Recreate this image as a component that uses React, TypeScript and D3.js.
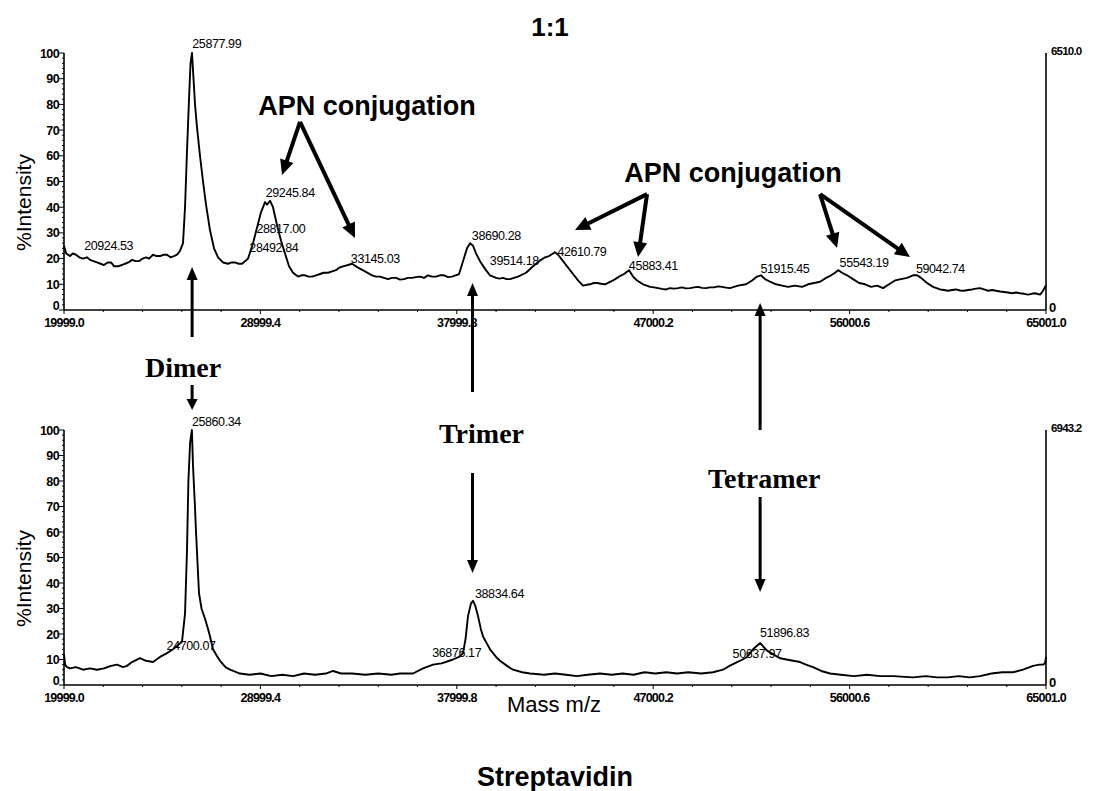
import React from "react";
import * as d3 from "d3";

// ---------- data ----------
const xTickLabels = ["19999.0", "28999.4", "37999.8", "47000.2", "56000.6", "65001.0"];
const yTickValues = [0, 10, 20, 30, 40, 50, 60, 70, 80, 90, 100];
const rightAxisTop = ["6510.0", "6943.2"];

const topMass = [19999, 20100, 20274, 20400, 20549, 20700, 20870, 21050, 21191, 21350, 21511, 21680, 21832, 22000, 22153, 22300, 22474, 22650, 22795, 22950, 23115, 23280, 23436, 23600, 23757, 23900, 24078, 24240, 24399, 24560, 24719, 24880, 25040, 25180, 25315, 25453, 25545, 25636, 25728, 25797, 25865, 25934, 26003, 26095, 26232, 26370, 26507, 26690, 26874, 27057, 27286, 27515, 27680, 27836, 28000, 28157, 28432, 28661, 28844, 29027, 29211, 29303, 29440, 29577, 29761, 29944, 30127, 30311, 30494, 30723, 30880, 31044, 31200, 31365, 31550, 31731, 31900, 32098, 32280, 32465, 32620, 32786, 33015, 33198, 33473, 33794, 34115, 34300, 34481, 34660, 34848, 35030, 35215, 35400, 35581, 35760, 35948, 36130, 36314, 36500, 36681, 36860, 37048, 37230, 37414, 37600, 37781, 38102, 38285, 38468, 38606, 38743, 38881, 39064, 39293, 39522, 39797, 39960, 40119, 40280, 40440, 40620, 40806, 41173, 41494, 41769, 42044, 42227, 42410, 42502, 42640, 42869, 43098, 43327, 43556, 43786, 43950, 44106, 44270, 44427, 44610, 44794, 45161, 45436, 45665, 45894, 46077, 46260, 46535, 46700, 46856, 47040, 47223, 47400, 47589, 47770, 47956, 48140, 48322, 48500, 48689, 48870, 49056, 49240, 49422, 49600, 49789, 49970, 50156, 50340, 50522, 50700, 50889, 51256, 51531, 51760, 51943, 52126, 52355, 52630, 52905, 53180, 53501, 53822, 54097, 54372, 54647, 54922, 55151, 55334, 55472, 55655, 55884, 56159, 56434, 56709, 56984, 57259, 57534, 57809, 58084, 58359, 58634, 58909, 59092, 59275, 59550, 59825, 60146, 60330, 60513, 60700, 60879, 61060, 61246, 61430, 61613, 61800, 61979, 62160, 62346, 62530, 62713, 62900, 63079, 63260, 63446, 63630, 63813, 64000, 64179, 64340, 64500, 64729, 64867, 64958, 65001];
const topIntensity = [25, 22, 21, 22, 21.5, 20.5, 20, 20.5, 19.5, 19, 18.5, 18, 17.5, 18.5, 18.5, 17, 17, 17.5, 18, 18.5, 19.5, 19, 19, 20, 20.5, 20, 21.5, 21, 21, 21.5, 21.5, 20.5, 21, 21.5, 23, 26, 40, 62, 82, 96, 100, 90, 80, 71, 60, 50, 41, 31, 24, 20.5, 18.5, 18, 18.5, 18.5, 18, 18, 20, 26, 32, 38, 42, 41, 42.5, 40, 33, 27, 22, 17, 14.5, 13, 13.5, 13.5, 13, 13, 13.5, 14, 14.5, 14.5, 15, 15.5, 16.5, 17, 17.5, 18, 16.5, 15, 13.5, 13, 13, 12.5, 12, 12.5, 12.5, 11.8, 12, 12.5, 12.5, 12.8, 13, 12.5, 13.5, 13, 13, 13.5, 13.5, 12.8, 13, 14, 19, 24, 26, 25, 22, 19, 16, 13.5, 12.5, 12.2, 12.5, 12, 12, 12.5, 13, 14.5, 17, 19, 20.5, 21, 22, 22.5, 21.5, 19, 16.5, 14, 11.5, 9.5, 9.8, 10, 10.5, 10.5, 10.2, 10, 11.5, 13, 14, 15.5, 13, 11.5, 10, 9.5, 9, 8.8, 8.5, 8.2, 8, 8.5, 8.3, 8.5, 8.8, 8.4, 8.5, 8.8, 9, 8.6, 8.5, 8.8, 8.8, 9.2, 9, 8.7, 8.5, 9, 9.5, 10, 11.5, 13, 13.5, 12, 11, 10, 9.5, 9, 9.5, 9, 10, 10.5, 11, 12.5, 13.5, 14.5, 15.5, 14.5, 13.5, 12, 10.5, 10, 9, 9.5, 8.5, 10, 11.5, 12, 12.5, 13.5, 13.5, 12.5, 10.5, 9, 8, 7.8, 7.5, 7.8, 8, 7.6, 7.5, 7.8, 8, 8.3, 8.5, 8, 7.5, 7.8, 7.5, 7.2, 7, 6.8, 6.5, 6.8, 6.5, 6.3, 6, 6.3, 6.5, 6, 7.5, 9, 9.5];

const bottomMass = [19999, 20050, 20136, 20274, 20549, 20870, 21191, 21511, 21832, 22153, 22428, 22703, 22886, 23115, 23482, 23757, 24078, 24399, 24719, 24994, 25200, 25407, 25545, 25636, 25700, 25778, 25860, 25911, 26000, 26049, 26186, 26300, 26461, 26600, 26690, 26828, 27000, 27149, 27400, 27607, 28065, 28500, 29000, 29500, 30000, 30500, 31000, 31500, 32000, 32327, 32700, 33200, 33800, 34400, 35000, 35398, 35994, 36452, 36911, 37300, 37827, 38102, 38285, 38400, 38514, 38650, 38743, 38850, 38973, 39100, 39202, 39522, 39800, 39981, 40300, 40577, 41000, 41356, 42000, 42500, 43000, 43500, 44000, 44564, 45100, 45600, 46100, 46600, 47100, 47600, 48100, 48600, 49200, 49743, 50201, 50500, 50843, 51100, 51301, 51576, 51897, 52050, 52218, 52500, 52813, 53109, 53409, 53730, 54000, 54326, 54700, 55105, 55600, 56200, 56800, 57400, 58000, 58909, 59500, 60000, 60500, 61000, 61500, 61979, 62500, 63000, 63492, 63950, 64408, 64700, 64867, 64958, 65001];
const bottomIntensity = [12, 8, 7, 6.5, 7, 6, 6.5, 6, 6.5, 7.5, 8, 7, 7.5, 9, 10.5, 9.5, 9, 11, 12.5, 14, 15.5, 17, 28, 53, 80, 95, 100, 86, 70, 60, 36, 30, 26, 22, 19, 14, 11.5, 9.5, 7, 6, 4.5, 4, 4.5, 3.5, 4, 3.5, 4.5, 4, 4.5, 5.5, 4.5, 4.5, 4, 4.5, 4, 4.5, 4.5, 6.5, 8, 8.5, 10, 11, 12.5, 18, 27, 32, 33, 31, 27, 22, 19, 14, 11, 9.5, 7.5, 6, 5, 4.5, 4, 4.5, 4, 3.5, 4, 4.5, 4, 4.5, 4, 5, 4.5, 5, 4.5, 5, 4.5, 5, 6, 7.5, 9, 10, 11, 14, 16.5, 15, 13.5, 12, 10.5, 10, 9.5, 9, 8, 7, 5.5, 4.5, 4, 3.5, 4, 3.5, 3.5, 3, 3.5, 3, 3, 3.5, 3, 3.5, 4.5, 5, 5, 6, 7.5, 8, 8, 8.5, 11];

// peak labels: mass (left edge), text, intensity level of the baseline
const topPeakMass = [25877.99, 20924.53, 29245.84, 28817.0, 28492.84, 33145.03, 38690.28, 39514.18, 42610.79, 45883.41, 51915.45, 55543.19, 59042.74];
const topPeakText = ["25877.99", "20924.53", "29245.84", "28817.00", "28492.84", "33145.03", "38690.28", "39514.18", "42610.79", "45883.41", "51915.45", "55543.19", "59042.74"];
const topPeakLevel = [101.9, 23.3, 44, 30, 22.6, 18.3, 27.2, 17.5, 21, 15.6, 14.4, 16.7, 14.4];

const bottomPeakMass = [25860.34, 24700.07, 38834.64, 36876.17, 51896.83, 50637.97];
const bottomPeakText = ["25860.34", "24700.07", "38834.64", "36876.17", "51896.83", "50637.97"];
const bottomPeakLevel = [101.6, 13.7, 34.1, 11, 18.8, 10.6];

// APN conjugation annotation groups (data coordinates in the top panel)
const apnLabelMass = [33886, 50660];
const apnLabelLevel = [75.9, 49.8];
const apnVertex = [[30815, 73.2], [46718, 45.1], [54647, 45.1]];
const apnTips = [
  [[29990, 52.5], [33335, 28]],
  [[43418, 31.1], [46306, 20.6]],
  [[55426, 24.1], [58771, 20.6]],
];

const oligomerNames = ["Dimer", "Trimer", "Tetramer"];
const oligomerMass = [25870, 38720, 51900];

// ---------- helpers ----------
function arrowHead(x1: number, y1: number, x2: number, y2: number, len: number, half: number) {
  const a = Math.atan2(y2 - y1, x2 - x1);
  const bx = x2 - len * Math.cos(a);
  const by = y2 - len * Math.sin(a);
  const px = -Math.sin(a) * half;
  const py = Math.cos(a) * half;
  return `M${x2},${y2}L${bx + px},${by + py}L${bx - px},${by - py}Z`;
}

function Arrow({ x1, y1, x2, y2, w, len, half }: any) {
  const a = Math.atan2(y2 - y1, x2 - x1);
  const ex = x2 - (len - 1) * Math.cos(a);
  const ey = y2 - (len - 1) * Math.sin(a);
  return (
    <g>
      <line x1={x1} y1={y1} x2={ex} y2={ey} stroke="#000" strokeWidth={w} />
      <path d={arrowHead(x1, y1, x2, y2, len, half)} fill="#000" />
    </g>
  );
}

const SANS = "'Liberation Sans', Arial, sans-serif";
const SERIF = "'Liberation Serif', 'Times New Roman', serif";

export default function App() {
  const W = 1094;
  const H = 791;
  const left = 64;
  const right = 1046;
  const x = d3.scaleLinear().domain([19999, 65001]).range([left, right]);
  const yTop = d3.scaleLinear().domain([0, 100]).range([310, 53]);
  const yBot = d3.scaleLinear().domain([0, 100]).range([685, 430]);

  const minorX = d3.range(0, 26).map((i) => 19999 + (i * 45002) / 25);
  const minorY = d3.range(0, 51).map((i) => i * 2);

  const panel = (
    y: any,
    mass: number[],
    inten: number[],
    pm: number[],
    pt: string[],
    pl: number[],
    rightLabel: string,
    key: string
  ) => {
    const line = d3
      .line<number>()
      .x((_, i) => x(mass[i]))
      .y((d) => y(d))
      .curve(d3.curveLinear);
    const y0 = y(0);
    const y100 = y(100);
    return (
      <g key={key}>
        {/* spectrum */}
        <path d={line(inten) || ""} fill="none" stroke="#000" strokeWidth={1.9} strokeLinejoin="round" />
        {/* axes */}
        <line x1={left} y1={y0} x2={right} y2={y0} stroke="#000" strokeWidth={1.6} />
        <line x1={left} y1={y0} x2={left} y2={y100} stroke="#000" strokeWidth={1.6} />
        <line x1={right} y1={y0} x2={right} y2={y100} stroke="#000" strokeWidth={1.6} />
        {minorY.map((v) => (
          <line key={"my" + v} x1={left - (v % 10 === 0 ? 5 : 2)} x2={left} y1={y(v)} y2={y(v)} stroke="#000" strokeWidth={1} />
        ))}
        {yTickValues.map((v) => (
          <text
            key={"yt" + v}
            x={left - 5}
            y={v === 0 ? y(v) - 0.5 : y(v) + 4.5}
            textAnchor="end"
            fontFamily={SANS}
            fontWeight="bold"
            fontSize={12.5}
            letterSpacing={-0.6}
          >
            {v}
          </text>
        ))}
        {minorX.map((m, i) => (
          <line key={"mx" + i} x1={x(m)} x2={x(m)} y1={y0} y2={y0 + (i % 5 === 0 ? 4 : 2)} stroke="#000" strokeWidth={1} />
        ))}
        {xTickLabels.map((t) => (
          <text
            key={"xt" + t}
            x={x(parseFloat(t))}
            y={y0 + 17}
            textAnchor="middle"
            fontFamily={SANS}
            fontWeight="bold"
            fontSize={12.5}
            letterSpacing={-0.8}
          >
            {t}
          </text>
        ))}
        <text x={right + 5} y={y100 + 2} fontFamily={SANS} fontWeight="bold" fontSize={11.5} letterSpacing={-0.8}>
          {rightLabel}
        </text>
        <text x={right + 3} y={y0 + 2} fontFamily={SANS} fontWeight="bold" fontSize={13}>
          0
        </text>
        <text
          transform={`translate(31,${(y0 + y100) / 2 + 21}) rotate(-90)`}
          textAnchor="middle"
          fontFamily={SANS}
          fontSize={21}
        >
          %Intensity
        </text>
        {pm.map((m, i) => (
          <text key={"pl" + i} x={x(m)} y={y(pl[i])} fontFamily={SANS} fontSize={12.5} letterSpacing={-0.4}>
            {pt[i]}
          </text>
        ))}
      </g>
    );
  };

  const xd = x(oligomerMass[0]);
  const xt = x(oligomerMass[1]);
  const xq = x(oligomerMass[2]);

  return (
    <svg
      width={W}
      height={H}
      viewBox={`0 0 ${W} ${H}`}
      style={{ position: "absolute", left: 0, top: 0, background: "#fff" }}
    >
      <rect x={0} y={0} width={W} height={H} fill="#fff" />
      <text x={550} y={36} textAnchor="middle" fontFamily={SANS} fontWeight="bold" fontSize={26}>
        1:1
      </text>
      {panel(yTop, topMass, topIntensity, topPeakMass, topPeakText, topPeakLevel, rightAxisTop[0], "top")}
      {panel(yBot, bottomMass, bottomIntensity, bottomPeakMass, bottomPeakText, bottomPeakLevel, rightAxisTop[1], "bot")}

      {/* APN conjugation annotations */}
      {apnLabelMass.map((m, i) => (
        <text
          key={"apn" + i}
          x={x(m)}
          y={yTop(apnLabelLevel[i])}
          textAnchor="middle"
          fontFamily={SANS}
          fontWeight="bold"
          fontSize={27}
        >
          APN conjugation
        </text>
      ))}
      {apnVertex.map((v, i) =>
        apnTips[i].map((t, j) => (
          <Arrow
            key={"aa" + i + j}
            x1={x(v[0])}
            y1={yTop(v[1])}
            x2={x(t[0])}
            y2={yTop(t[1])}
            w={4}
            len={15}
            half={7}
          />
        ))
      )}

      {/* Dimer */}
      <Arrow x1={xd} y1={337} x2={xd} y2={267} w={3} len={13} half={5.5} />
      <text x={xd - 9} y={377} textAnchor="middle" fontFamily={SERIF} fontWeight="bold" fontSize={28}>
        {oligomerNames[0]}
      </text>
      <Arrow x1={xd} y1={385} x2={xd} y2={410} w={3} len={11} half={5.5} />

      {/* Trimer */}
      <Arrow x1={xt} y1={392} x2={xt} y2={283} w={3} len={13} half={5.5} />
      <text x={xt + 9} y={443} textAnchor="middle" fontFamily={SERIF} fontWeight="bold" fontSize={28}>
        {oligomerNames[1]}
      </text>
      <Arrow x1={xt} y1={473} x2={xt} y2={573} w={3} len={13} half={5.5} />

      {/* Tetramer */}
      <Arrow x1={xq} y1={430} x2={xq} y2={303} w={3} len={13} half={5.5} />
      <text x={xq + 4} y={488} textAnchor="middle" fontFamily={SERIF} fontWeight="bold" fontSize={28}>
        {oligomerNames[2]}
      </text>
      <Arrow x1={xq} y1={497} x2={xq} y2={592} w={3} len={13} half={5.5} />

      <text x={554} y={712} textAnchor="middle" fontFamily={SANS} fontSize={22}>
        Mass m/z
      </text>
      <text x={555} y={786} textAnchor="middle" fontFamily={SANS} fontWeight="bold" fontSize={27}>
        Streptavidin
      </text>
    </svg>
  );
}
